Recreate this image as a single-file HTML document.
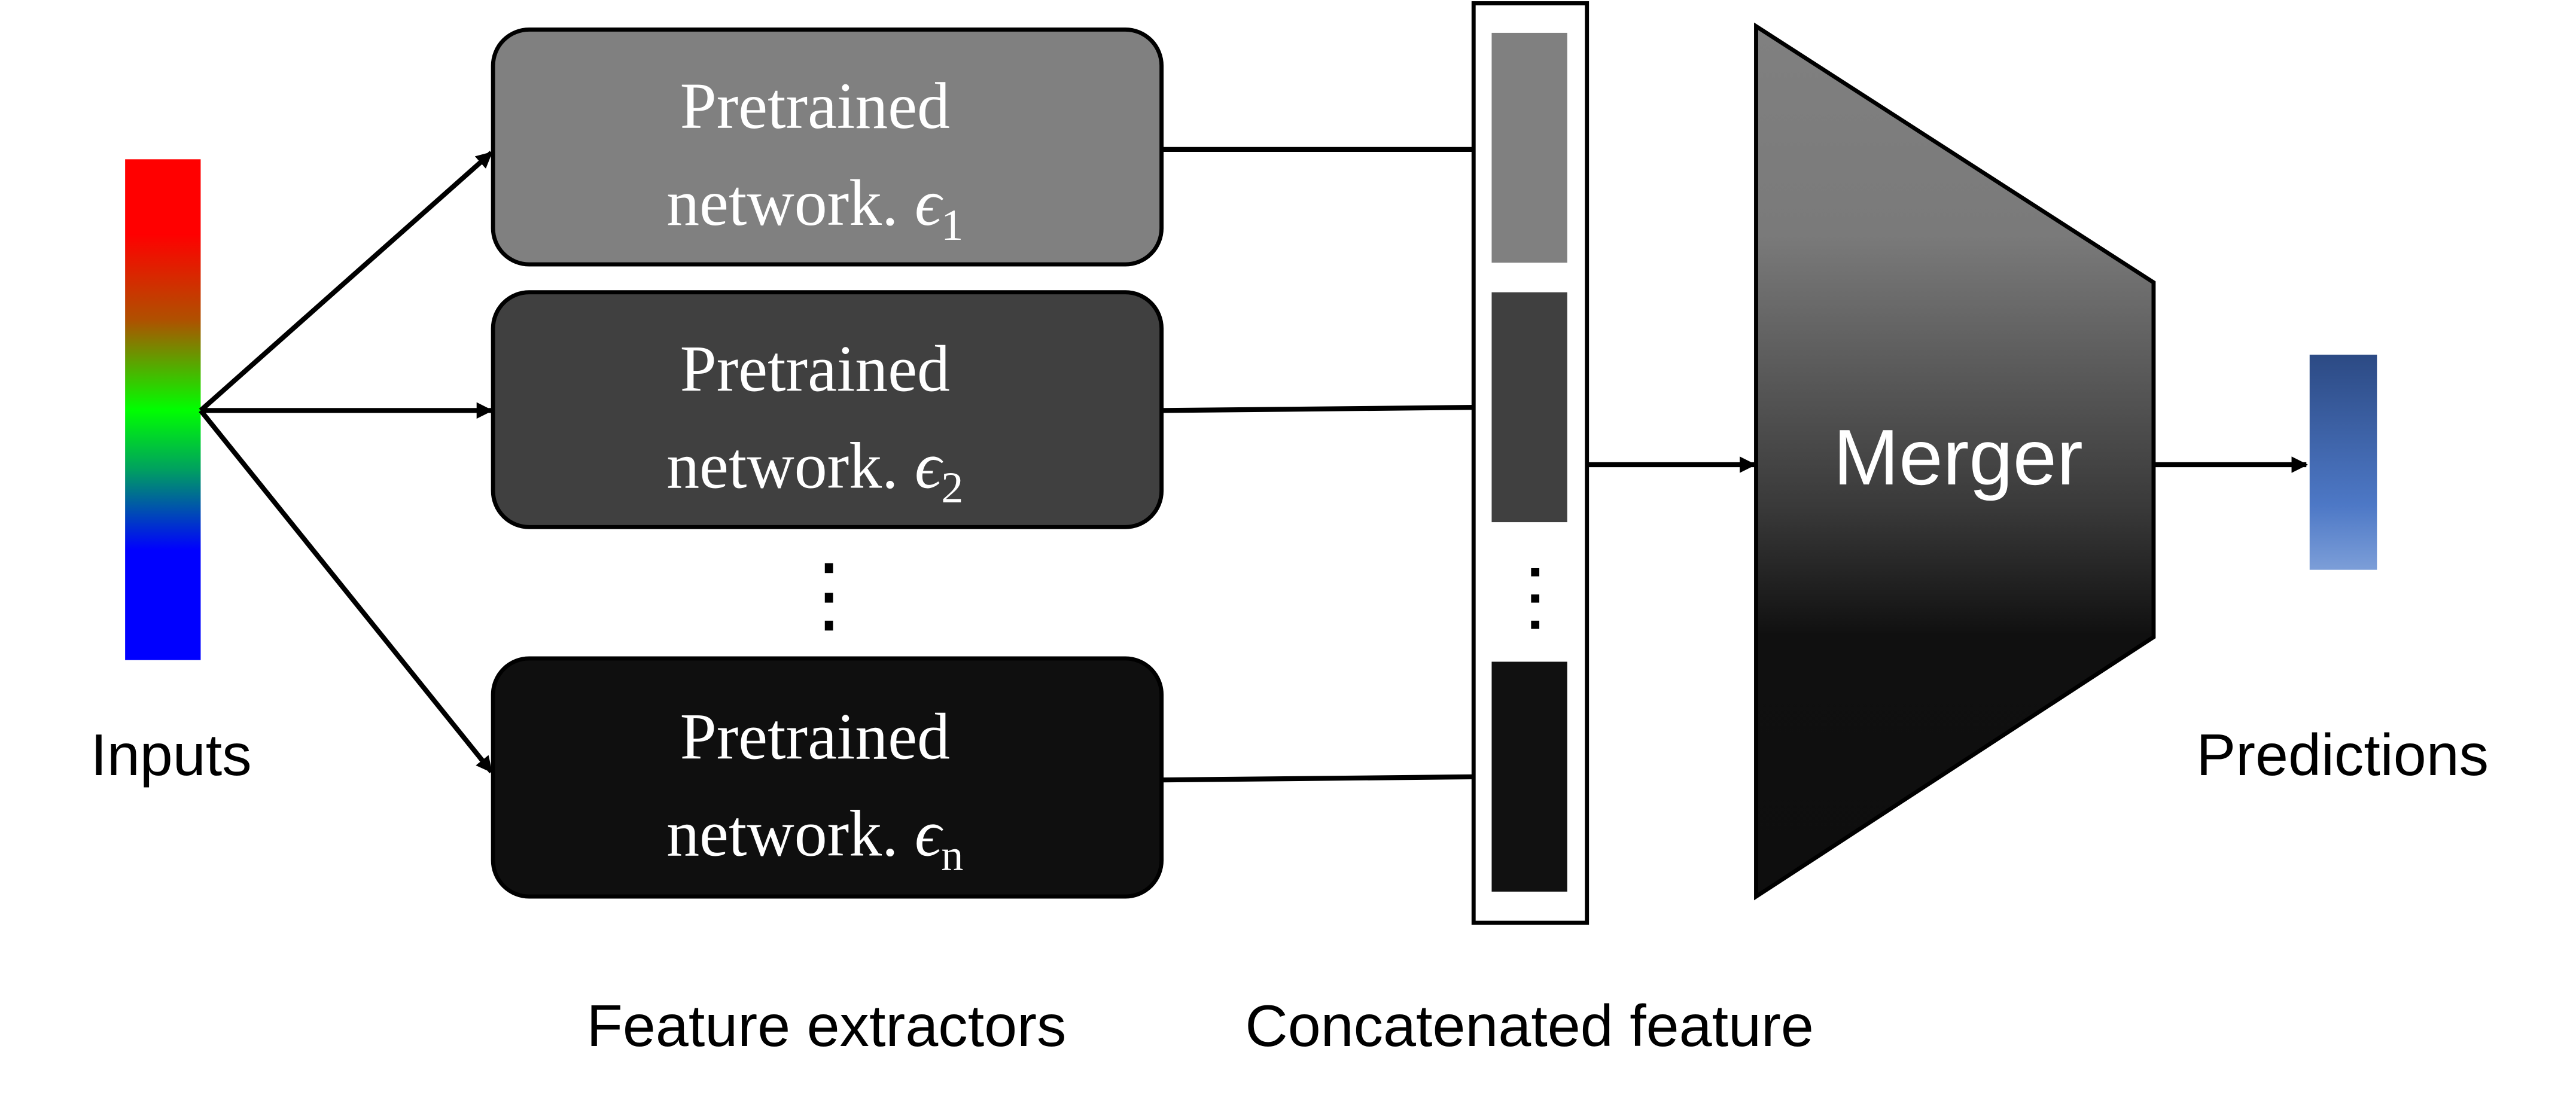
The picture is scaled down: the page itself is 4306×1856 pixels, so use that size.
<!DOCTYPE html>
<html><head><meta charset="utf-8"><style>html,body{margin:0;padding:0;background:#fff}svg{display:block}</style></head>
<body>
<svg width="4306" height="1856" viewBox="0 0 1568 676" xmlns="http://www.w3.org/2000/svg">
<defs>
<linearGradient id="rgb" x1="0" y1="0" x2="0" y2="1">
<stop offset="0" stop-color="#ff0000"/><stop offset="0.15" stop-color="#ff0000"/>
<stop offset="0.32" stop-color="#b05000"/><stop offset="0.5" stop-color="#00ff00"/>
<stop offset="0.62" stop-color="#00a060"/><stop offset="0.78" stop-color="#0000ff"/><stop offset="1" stop-color="#0000ff"/>
</linearGradient>
<linearGradient id="mg" x1="0" y1="0" x2="0" y2="1">
<stop offset="0" stop-color="#808080"/><stop offset="0.24" stop-color="#7a7a7a"/>
<stop offset="0.55" stop-color="#3a3a3a"/><stop offset="0.7" stop-color="#101010"/><stop offset="1" stop-color="#0e0e0e"/>
</linearGradient>
<linearGradient id="pg" x1="0" y1="0" x2="0" y2="1">
<stop offset="0" stop-color="#2c4a84"/><stop offset="0.7" stop-color="#4d78c6"/><stop offset="1" stop-color="#7c9ed8"/>
</linearGradient>
<marker id="ah" markerWidth="10" markerHeight="10" refX="9" refY="5" orient="auto" markerUnits="userSpaceOnUse">
<path d="M0,0 L10,5 L0,10 Z" fill="#000"/></marker>
</defs>
<rect x="76" y="97" width="46" height="305" fill="url(#rgb)"/>
<g stroke="#000" stroke-width="3" fill="none" marker-end="url(#ah)">
<line x1="122" y1="250" x2="299" y2="93"/>
<line x1="122" y1="250" x2="299" y2="250"/>
<line x1="122" y1="250" x2="299" y2="470"/>
<line x1="707" y1="91" x2="907" y2="91"/>
<line x1="707" y1="250" x2="907" y2="248"/>
<line x1="707" y1="475" x2="907" y2="473"/>
<line x1="966" y1="283" x2="1068" y2="283"/>
<line x1="1311" y1="283" x2="1404" y2="283"/>
</g>
<g stroke="#000" stroke-width="2.5">
<rect x="300" y="18" width="407" height="143" rx="22" fill="#808080"/>
<rect x="300" y="178" width="407" height="143" rx="22" fill="#404040"/>
<rect x="300" y="401" width="407" height="145" rx="22" fill="#0f0f0f"/>
</g>
<g font-family="'Liberation Serif',serif" font-size="40" fill="#fff" text-anchor="middle">
<text x="496" y="78">Pretrained</text>
<text x="496" y="137">network. <tspan font-style="italic">ϵ</tspan><tspan font-size="27" dy="9">1</tspan></text>
<text x="496" y="238">Pretrained</text>
<text x="496" y="297">network. <tspan font-style="italic">ϵ</tspan><tspan font-size="27" dy="9">2</tspan></text>
<text x="496" y="462">Pretrained</text>
<text x="496" y="521">network. <tspan font-style="italic">ϵ</tspan><tspan font-size="27" dy="9">n</tspan></text>
</g>
<g fill="#000"><rect x="502" y="343" width="5" height="6"/><rect x="502" y="361" width="5" height="6"/><rect x="502" y="378" width="5" height="6"/></g>
<rect x="897" y="2" width="69" height="560" fill="#fff" stroke="#000" stroke-width="2.5"/>
<rect x="908" y="20" width="46" height="140" fill="#808080"/>
<rect x="908" y="178" width="46" height="140" fill="#404040"/>
<rect x="908" y="403" width="46" height="140" fill="#111"/>
<g fill="#000"><rect x="932" y="346" width="5" height="5"/><rect x="932" y="362" width="5" height="5"/><rect x="932" y="378" width="5" height="5"/></g>
<polygon points="1069,16 1311,172 1311,388 1069,546" fill="url(#mg)" stroke="#000" stroke-width="2.5"/>
<text x="1192" y="295" font-family="'Liberation Sans',sans-serif" font-size="48" fill="#fff" text-anchor="middle">Merger</text>
<rect x="1406" y="216" width="41" height="131" fill="url(#pg)"/>
<g font-family="'Liberation Sans',sans-serif" font-size="36" fill="#000" text-anchor="middle">
<text x="104" y="472">Inputs</text>
<text x="1426" y="472">Predictions</text>
<text x="503" y="637">Feature extractors</text>
<text x="931" y="637">Concatenated feature</text>
</g>
</svg>
</body></html>
